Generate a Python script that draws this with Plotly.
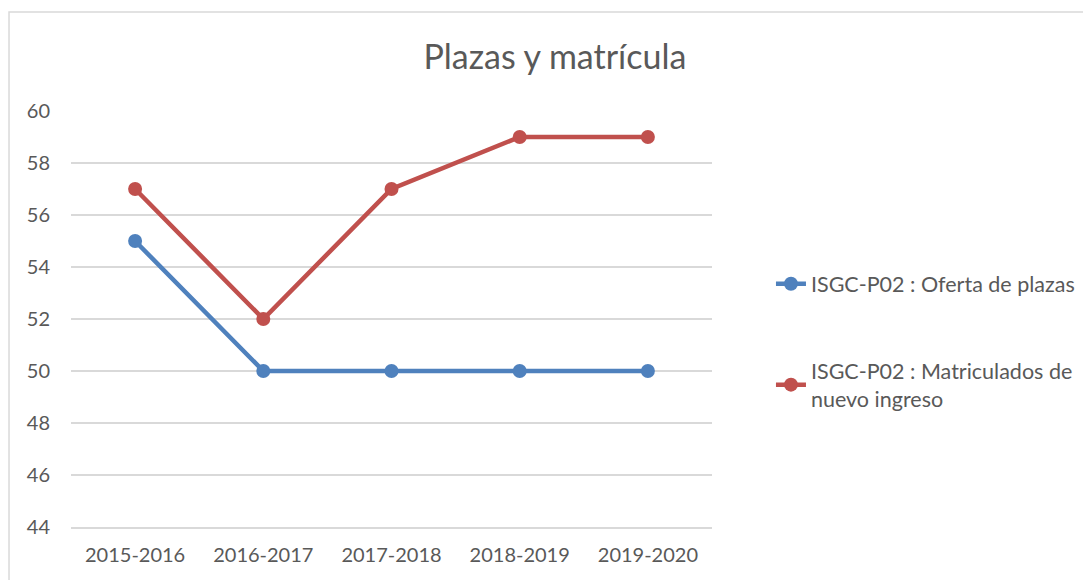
import plotly.graph_objects as go

cursos = ["2015-2016", "2016-2017", "2017-2018", "2018-2019", "2019-2020"]
oferta_plazas = [55, 50, 50, 50, 50]
matriculados = [57, 52, 57, 59, 59]

FONT = "Lato, 'Open Sans', sans-serif"
GRIS = "#595959"

fig = go.Figure()

fig.add_trace(go.Scatter(
    x=cursos,
    y=oferta_plazas,
    mode='lines+markers',
    name="ISGC-P02 : Oferta de plazas",
    legendgroup="a",
    line=dict(color="#4F81BD", width=4.5),
    marker=dict(color="#4F81BD", size=14),
))

fig.add_trace(go.Scatter(
    x=cursos,
    y=matriculados,
    mode='lines+markers',
    name="ISGC-P02 : Matriculados de<br>nuevo ingreso",
    legendgroup="b",
    line=dict(color="#C0504D", width=4.5),
    marker=dict(color="#C0504D", size=14),
))

# marco del gráfico (la página tiene 8px de margen)
fig.add_shape(
    type="rect", xref="paper", yref="paper",
    x0=-0.0967, x1=1.7, y0=-0.3, y1=1.238,
    line=dict(color="#D9D9D9", width=1.5),
    fillcolor="rgba(0,0,0,0)", layer="below",
)

fig.update_layout(
    width=1083,
    height=572,
    paper_bgcolor="white",
    plot_bgcolor="white",
    margin=dict(l=63, r=379, t=103, b=53, autoexpand=False),
    font=dict(family=FONT, size=20, color=GRIS),
    title=dict(
        text="Plazas y matrícula",
        x=0.505, xanchor="center",
        y=1 - 49 / 572, yanchor="middle",
        font=dict(family=FONT, size=34, color=GRIS),
    ),
    showlegend=True,
    legend=dict(
        x=1.092, xanchor="left",
        y=0.634, yanchor="top",
        tracegroupgap=56,
        font=dict(family=FONT, size=21.5, color=GRIS),
        bgcolor="rgba(0,0,0,0)",
    ),
    xaxis=dict(
        range=[-0.5, 4.5],
        automargin=False,
        showgrid=False,
        showline=True,
        linecolor="#D9D9D9",
        linewidth=1.5,
        ticks="",
        ticklabelstandoff=9,
        tickfont=dict(size=20, color=GRIS),
    ),
    yaxis=dict(
        range=[44, 60],
        automargin=False,
        dtick=2,
        showgrid=True,
        gridcolor="#D9D9D9",
        gridwidth=1.5,
        zeroline=False,
        ticks="",
        ticklabelstandoff=20,
        tickfont=dict(size=20, color=GRIS),
    ),
)

fig.write_html("out.html")
